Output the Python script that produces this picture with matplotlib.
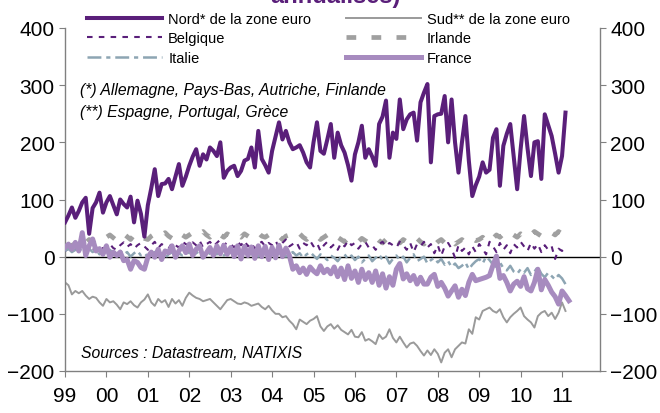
import matplotlib
matplotlib.use("Agg")
import matplotlib.pyplot as plt
import numpy as np

plt.rcParams['font.family'] = ['Liberation Sans', 'DejaVu Sans']
plt.rcParams['lines.scale_dashes'] = False

year_labels = ["99", "00", "01", "02", "03", "04", "05", "06", "07", "08", "09", "10", "11"]

nord = [60, 72, 86, 68, 80, 95, 103, 40, 85, 95, 112, 77,
        95, 106, 90, 74, 100, 92, 86, 105, 60, 98, 75, 35,
        90, 120, 153, 106, 127, 128, 136, 118, 140, 162, 124, 140,
        159, 175, 188, 159, 179, 170, 191, 185, 176, 200, 138, 150,
        156, 159, 141, 150, 168, 171, 191, 156, 220, 171, 160, 147,
        185, 210, 235, 205, 220, 200, 188, 191, 195, 182, 165, 156,
        200, 235, 185, 180, 205, 232, 173, 217, 195, 182, 160, 133,
        179, 200, 229, 173, 188, 175, 159, 232, 245, 273, 173, 217,
        206, 275, 223, 240, 249, 252, 203, 270, 287, 302, 165, 246,
        249, 250, 281, 200, 275, 200, 147, 200, 246, 168, 106, 125,
        140, 165, 147, 152, 208, 223, 124, 194, 215, 232, 175, 118,
        188, 246, 190, 141, 200, 202, 136, 249, 230, 211, 180, 147,
        176, 252]

sud = [-45, -50, -66, -60, -64, -60, -68, -74, -70, -72, -80, -86,
       -74, -80, -78, -84, -92, -80, -83, -78, -85, -89, -80, -75,
       -66, -80, -86, -74, -80, -76, -88, -74, -82, -76, -86, -72,
       -63, -68, -72, -74, -78, -76, -74, -80, -86, -92, -84, -76,
       -74, -78, -82, -83, -80, -82, -86, -84, -82, -88, -92, -86,
       -94, -100, -100, -106, -104, -112, -118, -127, -110, -114, -118, -112,
       -109, -104, -122, -130, -122, -118, -126, -120, -128, -132, -136, -128,
       -140, -141, -132, -147, -144, -148, -153, -136, -144, -140, -127, -142,
       -150, -140, -150, -159, -152, -150, -156, -165, -173, -164, -172, -162,
       -170, -185, -168, -162, -176, -162, -156, -150, -152, -127, -135, -106,
       -110, -95, -92, -89, -95, -98, -92, -106, -115, -106, -100, -95,
       -89, -104, -110, -115, -124, -104, -98, -95, -104, -98, -109, -98,
       -80, -95]

belgique = [10, 14, 8, 12, 16, 10, 13, 18, 12, 15, 20, 14,
            18, 22, 15, 12, 20, 25, 17, 22, 14, 20, 24, 18,
            12, 20, 26, 15, 22, 18, 14, 24, 20, 16, 26, 22,
            18, 25, 20, 28, 16, 22, 26, 18, 24, 30, 20, 25,
            22, 16, 26, 20, 28, 18, 24, 14, 22, 26, 18, 24,
            20, 28, 16, 24, 30, 18, 22, 26, 14, 24, 20, 28,
            18, 24, 10, 20, 26, 16, 22, 12, 24, 18, 28, 20,
            24, 14, 22, 26, 16, 20, 12, 22, 26, 18, 24, 20,
            16, 26, 20, 12, 24, 8, 22, 18, 26, 16, 22, 6,
            20, 2, 18, 24, 14, -2, 20, 10, 16, 4, 18, 8,
            22, 14, 4, 26, 18, 8, 24, 12, 20, 6, 22, 16,
            26, 18, 10, 24, 14, 22, 8, 20, 12, 18, -4, 14,
            10, 16]

irlande = [15, 18, 20, 22, 25, 28, 24, 30, 26, 32, 35, 30,
           34, 38, 33, 28, 36, 40, 35, 30, 38, 42, 36, 32,
           30, 36, 40, 34, 38, 42, 36, 32, 40, 44, 38, 34,
           38, 42, 36, 40, 44, 38, 34, 40, 45, 38, 34, 40,
           36, 42, 38, 34, 40, 36, 32, 38, 42, 36, 34, 38,
           34, 40, 36, 30, 36, 38, 32, 36, 40, 34, 30, 36,
           32, 36, 30, 34, 38, 32, 28, 34, 30, 26, 32, 28,
           30, 26, 32, 28, 24, 30, 34, 28, 24, 30, 26, 22,
           28, 24, 30, 26, 22, 28, 32, 26, 22, 28, 24, 20,
           26, 30, 24, 20, 28, 22, 26, 30, 24, 28, 32, 28,
           30, 34, 28, 36, 32, 38, 34, 40, 36, 42, 38, 34,
           40, 36, 42, 38, 44, 40, 36, 42, 46, 42, 38, 44,
           40, 36]

italie = [10, 14, 8, 12, 18, 6, 10, 14, 8, 12, 4, 10,
          8, 12, 6, 2, 10, 4, 8, 0, 6, 10, 2, 6,
          0, 4, 8, 2, 6, -2, 4, 8, 0, 6, 2, 4,
          8, 2, 6, 10, 4, 0, 6, 10, 4, 8, 2, 6,
          10, 4, 8, 2, 6, 12, 4, 8, 0, 6, 10, 4,
          8, 2, 6, 10, 0, 4, 8, 2, 6, -2, 4, 8,
          2, -4, 4, 0, -6, 2, -2, -8, 0, 4, -4, 2,
          -6, 0, -10, -4, 2, -8, -2, 4, -6, 0, -12, -4,
          2, -6, 0, -10, -2, 4, -8, -4, 0, -12, -6, -2,
          -10, -4, -14, -8, -18, -12, -20, -16, -10, -22, -14, -8,
          -4, -12, 0, -6, -14, -18, -10, -20, -24, -16, -26, -30,
          -22, -28, -20, -32, -26, -18, -30, -36, -28, -34, -40, -32,
          -38, -48]

france = [16, 22, 13, 25, 10, 42, 2, 19, 31, 10, 14, 4,
          19, -1, 8, 2, 8, -7, -5, -22, -7, -10, -19, -22,
          -1, 8, -1, 13, -5, 10, 7, 19, -1, 10, 19, 7,
          22, 2, 13, 19, -1, 7, 16, 2, 19, 5, 20, 4,
          16, 0, 19, -4, 18, 2, 17, -3, 19, 0, 18, -5,
          16, -2, 20, 0, 15, 2, -22, -16, -28, -20, -31, -18,
          -25, -30, -16, -28, -22, -30, -18, -35, -20, -40, -16, -38,
          -25, -45, -22, -40, -28, -45, -25, -50, -30, -55, -35, -50,
          -22, -12, -39, -30, -42, -33, -48, -36, -48, -48, -36, -31,
          -52, -45, -55, -69, -60, -51, -71, -57, -68, -45, -31, -42,
          -40, -38, -36, -33, -15, 1, -38, -33, -45, -60, -48, -43,
          -52, -35, -56, -60, -45, -22, -58, -40, -50, -62, -70, -83,
          -60, -68, -77]

W, H = 660, 414
fig = plt.figure(figsize=(W / 100, H / 100), dpi=100)
ax = fig.add_axes([65 / W, 1 - 372 / H, (600 - 65) / W, (372 - 29) / H])

c_nord = '#5A1F7A'
c_fr = '#A78BBF'
c_sud = '#9A9A9A'
c_irl = '#A0A0A0'
c_ita = '#8DA5B3'

ax.axhline(0, color='black', lw=1.0, zorder=1)

l_sud, = ax.plot(np.arange(len(sud)), sud, color=c_sud, lw=1.4, zorder=2,
                 label='Sud** de la zone euro')
l_irl, = ax.plot(np.arange(len(irlande)), irlande, color=c_irl, lw=3.4, zorder=3,
                 dashes=(7, 11), label='Irlande')
l_bel, = ax.plot(np.arange(len(belgique)), belgique, color=c_nord, lw=1.5, zorder=4,
                 dashes=(4, 4.5), label='Belgique')
l_ita, = ax.plot(np.arange(len(italie)), italie, color=c_ita, lw=1.8, zorder=4,
                 dashes=(10, 3.5, 3, 3.5), label='Italie')
l_fr, = ax.plot(np.arange(len(france)), france, color=c_fr, lw=3.6, zorder=5,
                label='France')
l_nord, = ax.plot(np.arange(len(nord)), nord, color=c_nord, lw=2.9, zorder=6,
                  label='Nord* de la zone euro')

ax.set_xlim(0, 155)
ax.set_ylim(-200, 400)
ax.set_yticks(np.arange(-200, 401, 100))
ax.set_xticks(np.arange(len(year_labels)) * 12)
ax.set_xticklabels(year_labels)

ax.spines['top'].set_visible(False)
for s in ['left', 'right', 'bottom']:
    ax.spines[s].set_color('#808080')
    ax.spines[s].set_linewidth(1.0)

ax.tick_params(axis='y', which='both', left=True, right=True, labelleft=True,
               labelright=True, direction='out', length=4.5, color='#808080',
               labelsize=15, pad=3)
ax.tick_params(axis='x', direction='out', length=4.5, color='#808080',
               labelsize=15, pad=6)

handles = [l_nord, l_bel, l_ita, l_sud, l_irl, l_fr]
leg = fig.legend(handles=handles, labels=[h.get_label() for h in handles],
                 ncol=2, loc='upper left', bbox_to_anchor=(77 / W, 1 - 3 / H),
                 frameon=False, fontsize=10.5, handlelength=5.1,
                 handletextpad=0.45, columnspacing=2.4, labelspacing=0.36,
                 borderpad=0.2)

fig.text(335 / W, 1 - 3 / H, 'annualisés)', ha='center', va='baseline',
         fontsize=17, fontweight='bold', color=c_nord)

fig.text(80 / W, 1 - 91 / H, '(*) Allemagne, Pays-Bas, Autriche, Finlande',
         ha='left', va='center', fontsize=11.3, style='italic')
fig.text(80 / W, 1 - 113 / H, '(**) Espagne, Portugal, Grèce',
         ha='left', va='center', fontsize=11.3, style='italic')
fig.text(81 / W, 1 - 354 / H, 'Sources : Datastream, NATIXIS',
         ha='left', va='center', fontsize=11.3, style='italic')

fig.savefig('out.png', dpi=100)
